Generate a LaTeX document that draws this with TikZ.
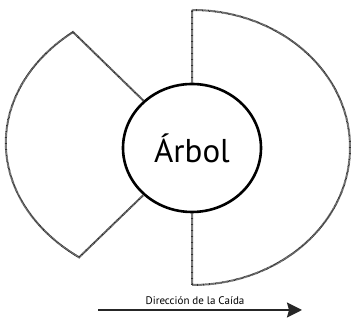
\documentclass[tikz,border=0pt]{standalone}
\usepackage{fontspec}
\setmainfont{PT Sans}
\usetikzlibrary{arrows.meta}
\usetikzlibrary{shapes.geometric}

\begin{document}
\begin{tikzpicture}[x=1pt,y=1pt,
    fall/.style={line width=2pt,dash pattern=on 0.7pt off 0.5pt,black!80},
    trunk/.style={ellipse,draw,line width=2.6pt,minimum width=138pt,minimum height=128pt,inner sep=0pt}]

    \useasboundingbox (0,0) rectangle (351,320);

    % tree
    \node[trunk] (arbol) at (192,172) {\fontsize{33}{36}\selectfont Árbol};

    % fall zone, left side
    \coordinate (ltop) at (73,288);
    \draw[fall] (arbol) -- (ltop) arc[start angle=129.7,end angle=232.7,x radius=186,y radius=144] -- (arbol);

    % fall zone, right side
    \coordinate (rtop) at (192,310);
    \draw[fall] (arbol.north) -- (rtop) arc[start angle=90,end angle=-90,x radius=158,y radius=137.5] -- (arbol.south);

    % direction arrow
    \coordinate (dstart) at (98,10);
    \coordinate (dend) at (302,10);
    \draw[line width=1.8pt,black!85,-{Stealth[length=15pt,width=15pt,inset=2pt]}] (dstart) -- (dend);
    \node[anchor=base,inner sep=0pt] (dir) at (195,15) {\fontsize{11}{13}\selectfont Dirección de la Caída};
\end{tikzpicture}
\end{document}
